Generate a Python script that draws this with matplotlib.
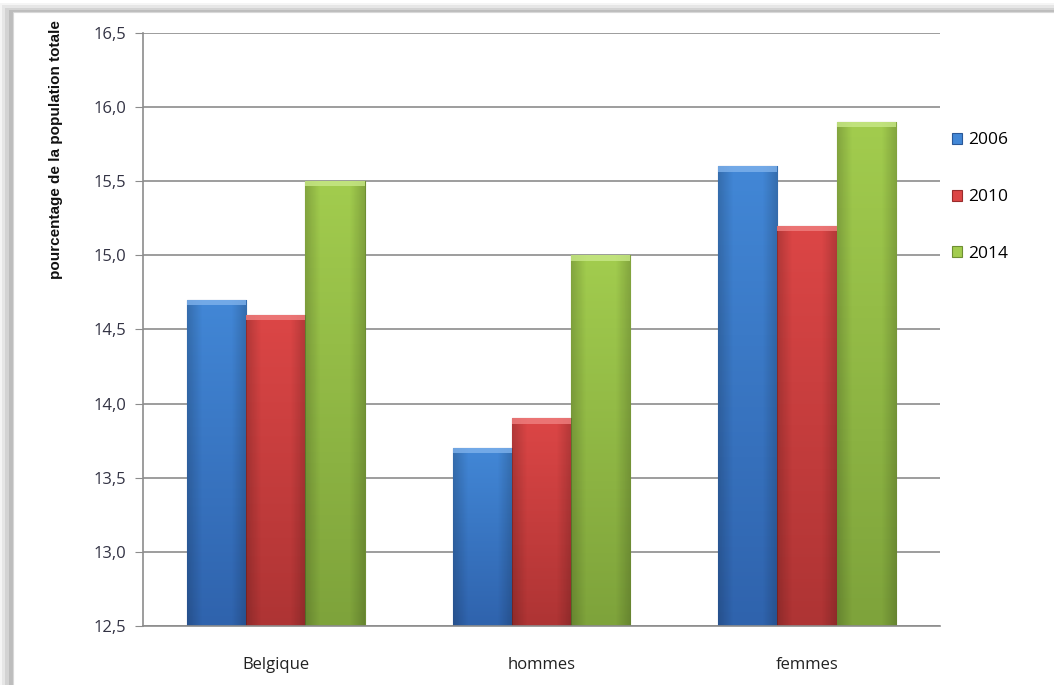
import numpy as np
import matplotlib.pyplot as plt
from matplotlib.patches import Rectangle
from matplotlib.colors import LinearSegmentedColormap
from matplotlib.ticker import FuncFormatter

categories = ['Belgique', 'hommes', 'femmes']
years = ['2006', '2010', '2014']
val_2006 = [14.7, 13.7, 15.6]
val_2010 = [14.6, 13.9, 15.2]
val_2014 = [15.5, 15.0, 15.9]
series = [val_2006, val_2010, val_2014]

# top / bottom / edge shades per series
shades = [('#4287d6', '#2f63ad', '#2a5898', '#7fb2ec'),
          ('#dc4646', '#ae3434', '#9a2c2c', '#f08080'),
          ('#a2cc4e', '#7ea33b', '#6e8f33', '#c8e888')]

fig = plt.figure(figsize=(10.54, 6.85), dpi=100)

# outer chart frame with soft shadow (drawn behind the axes)
for i, a in enumerate([0.04, 0.06, 0.08, 0.10]):
    pad = 0.0035 * (4 - i)
    fig.patches.append(Rectangle((0.012 - pad, -0.1), 1.1, 1.082 + pad,
                                 transform=fig.transFigure, fc='#000000', ec='none',
                                 alpha=a, zorder=-3))
fig.patches.append(Rectangle((0.012, -0.1), 1.1, 1.082,
                             transform=fig.transFigure, fc='white', ec='#d8d8d8', lw=0.8,
                             zorder=-2))

ax = fig.add_axes([0.1357, 0.0861, 0.756, 0.8658])
ax.patch.set_alpha(0)
ax.set_yticks(np.arange(12.5, 16.51, 0.5))
ax.yaxis.set_major_formatter(FuncFormatter(lambda v, p: f'{v:.1f}'.replace('.', ',')))
ax.grid(axis='y', color='#8c8c8c', lw=1.2)
ax.set_axisbelow(True)
for s in ['top', 'right']:
    ax.spines[s].set_visible(False)
for s in ['left', 'bottom']:
    ax.spines[s].set_color('#8c8c8c')
    ax.spines[s].set_linewidth(1.2)
ax.tick_params(axis='y', length=6, color='#8c8c8c', labelsize=12, labelcolor='#333344', pad=6)
ax.tick_params(axis='x', length=0, labelsize=12, labelcolor='#222222', pad=22)
ax.set_xticks(range(len(categories)))
ax.set_xticklabels(categories, family='Open Sans')
for lab in ax.get_yticklabels():
    lab.set_family('Open Sans')

w = 0.223
x = np.arange(len(categories))
handles = []
for k, (vals, (top, bot, edge, hi)) in enumerate(zip(series, shades)):
    bars = ax.bar(x + (k - 1) * w, np.array(vals) - 12.5, w, bottom=12.5, color=top,
                  edgecolor=edge, lw=0.8, zorder=2, label=years[k])
    handles.append(bars)
    vcmap = LinearSegmentedColormap.from_list('v', [bot, top])
    hcmap = LinearSegmentedColormap.from_list('h', ['#00000030', '#00000000', '#00000000',
                                                    '#00000000', '#00000030'])
    vgrad = np.linspace(1, 0, 128)[:, None]
    hgrad = np.linspace(0, 1, 128)[None, :]
    for b in bars:
        bx, by = b.get_x(), b.get_y()
        bw, bh = b.get_width(), b.get_height()
        ext = (bx, bx + bw, by, by + bh)
        im = ax.imshow(vgrad, cmap=vcmap, aspect='auto', extent=ext, zorder=2.1)
        im.set_clip_path(b)
        sh = ax.imshow(hgrad, cmap=hcmap, aspect='auto', extent=ext, zorder=2.2)
        sh.set_clip_path(b)
        # top bevel highlight
        ax.bar(bx + bw / 2, 0.035, bw, bottom=by + bh - 0.035, color=hi, lw=0,
               zorder=2.3, alpha=0.8)

ax.set_xlim(-0.5, 2.5)
ax.set_ylim(12.5, 16.5)

fig.text(0.053, 0.97, 'pourcentage de la population totale', rotation=90, ha='center', va='top',
         fontsize=11, fontweight='bold', family='Liberation Sans', color='#111111')

leg = fig.legend(handles=handles, labels=years, loc='center left', bbox_to_anchor=(0.888, 0.712),
                 frameon=False, handlelength=0.6, handleheight=0.6,
                 labelspacing=2.35, handletextpad=0.35, prop={'family': 'Open Sans', 'size': 12.5})

fig.savefig('out.png', dpi=100)
